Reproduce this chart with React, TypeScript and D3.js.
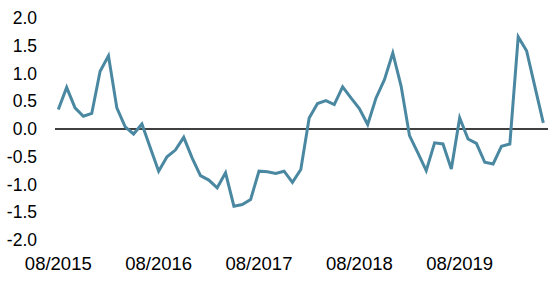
import React from "react";
import * as d3 from "d3";

const values: number[] = [
  0.35, 0.75, 0.38, 0.23, 0.28, 1.04, 1.32, 0.38, 0.04, -0.09,
  0.09, -0.34, -0.76, -0.5, -0.38, -0.15, -0.52, -0.84, -0.92, -1.06,
  -0.79, -1.39, -1.36, -1.27, -0.76, -0.77, -0.8, -0.76, -0.96, -0.73,
  0.2, 0.46, 0.51, 0.44, 0.76, 0.56, 0.37, 0.08, 0.56, 0.89,
  1.37, 0.77, -0.12, -0.43, -0.75, -0.25, -0.27, -0.72, 0.2, -0.18,
  -0.26, -0.6, -0.63, -0.31, -0.27, 1.66, 1.41, 0.76, 0.11,
];
const xTickIndex: number[] = [0, 12, 24, 36, 48];
const xTickLabels: string[] = ["08/2015", "08/2016", "08/2017", "08/2018", "08/2019"];
const yTicks: number[] = [2, 1.5, 1, 0.5, 0, -0.5, -1, -1.5, -2];

export default function App() {
  const W = 555, H = 285;
  const x = d3.scaleLinear().domain([0, values.length - 1]).range([58.3, 543.3]);
  const y = d3.scaleLinear().domain([-2, 2]).range([240, 18]);
  const line = d3.line<number>().x((_, i) => x(i)).y((d) => y(d));
  const font = "'Liberation Sans', Arial, Helvetica, sans-serif";
  return (
    <svg width={W} height={H} style={{ position: "absolute", left: 0, top: 0 }}>
      <rect width={W} height={H} fill="#fff" />
      {yTicks.map((t) => (
        <text key={t} x={37} y={y(t)} textAnchor="end" dominantBaseline="central"
          fontFamily={font} fontSize={17.5} fill="#000">{t.toFixed(1)}</text>
      ))}
      {xTickIndex.map((idx, k) => (
        <text key={idx} x={x(idx)} y={270} textAnchor="middle"
          fontFamily={font} fontSize={18.5} fill="#000">{xTickLabels[k]}</text>
      ))}
      <line x1={55} x2={548} y1={y(0)} y2={y(0)} stroke="#000" strokeWidth={1.5} />
      <path d={line(values) || ""} fill="none" stroke="#4a88a2" strokeWidth={3} strokeLinejoin="miter" />
    </svg>
  );
}
